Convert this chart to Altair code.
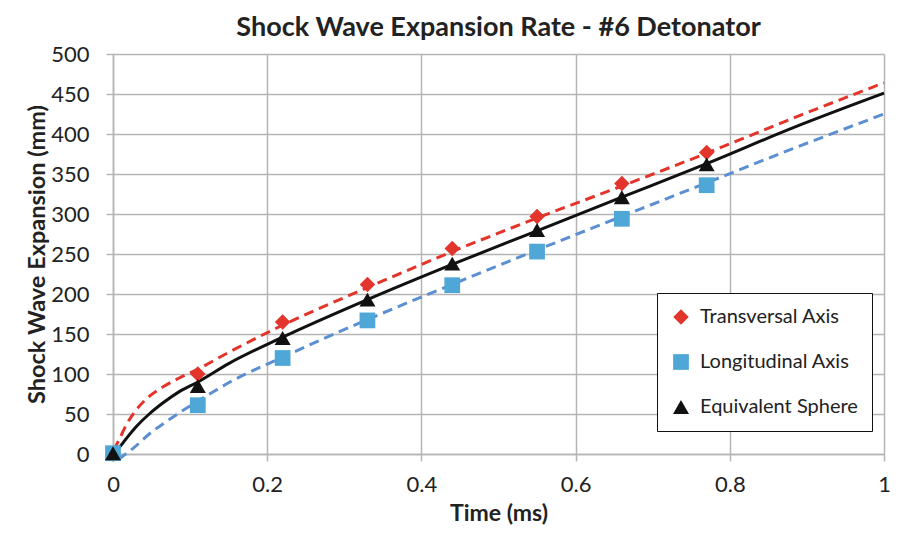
import altair as alt
import pandas as pd

# ---- marker data ----
x_pts = [0, 0.11, 0.22, 0.33, 0.44, 0.55, 0.66, 0.77]
trans = [0, 100, 165, 212, 257, 297, 338, 377]
longi = [1, 61, 120, 167, 211, 253, 294, 336]
equiv = [1, 85, 145, 193, 238, 280, 321, 362]

series_names = ["Transversal Axis", "Longitudinal Axis", "Equivalent Sphere"]

# ---- trend line samples ----
red_x = [0.001, 0.008, 0.017, 0.03, 0.047, 0.065, 0.086, 0.11, 0.15, 0.22, 0.33, 0.44, 0.55, 0.66, 0.77, 0.88, 1.0]
red_y = [5, 18, 36, 55, 72, 84, 95, 106, 127, 161, 208, 253, 295, 335, 376, 419, 464]

blk_x = [0.001, 0.008, 0.017, 0.03, 0.047, 0.065, 0.086, 0.11, 0.15, 0.22, 0.33, 0.44, 0.55, 0.66, 0.77, 0.88, 1.0]
blk_y = [1, 8, 19, 34, 50, 64, 78, 90, 113, 146, 193, 237, 279, 321, 363, 407, 451]

blu_x = [0.007, 0.015, 0.026, 0.047, 0.073, 0.09, 0.11, 0.134, 0.15, 0.22, 0.33, 0.44, 0.55, 0.66, 0.77, 0.88, 1.0]
blu_y = [-7, -1, 7, 25, 43, 54, 66, 80, 89, 121, 168, 212, 255, 297, 339, 381, 425]

rows = []
for k, (name, vals) in enumerate(zip(series_names, [trans, longi, equiv])):
    for x, y in zip(x_pts, vals):
        rows.append({"t": x, "v": y, "series": name, "ord": k})
markers = pd.DataFrame(rows)

red_df = pd.DataFrame({"t": red_x, "v": red_y})
blk_df = pd.DataFrame({"t": blk_x, "v": blk_y})
blu_df = pd.DataFrame({"t": blu_x, "v": blu_y})

FONT = "Lato"

xs = alt.Scale(domain=[0, 1], nice=False)
ys = alt.Scale(domain=[0, 500], nice=False)

x_enc = alt.X("t:Q", scale=xs, title="Time (ms)",
              axis=alt.Axis(values=[0, 0.2, 0.4, 0.6, 0.8, 1.0], format="~g", labelFlush=False))
y_enc = alt.Y("v:Q", scale=ys, title="Shock Wave Expansion (mm)",
              axis=alt.Axis(values=list(range(0, 501, 50)), labelFlush=False))

red_line = alt.Chart(red_df).mark_line(
    color="#E3332A", strokeWidth=3, strokeDash=[10, 6], clip=False, interpolate="monotone"
).encode(x=x_enc, y=y_enc)

blu_line = alt.Chart(blu_df).mark_line(
    color="#5B8FD2", strokeWidth=3, strokeDash=[10, 6], clip=False, interpolate="monotone"
).encode(x=x_enc, y=y_enc)

blk_line = alt.Chart(blk_df).mark_line(
    color="#111111", strokeWidth=3, interpolate="monotone"
).encode(x=x_enc, y=y_enc)

pts = alt.Chart(markers).mark_point(filled=True, opacity=1, strokeWidth=0, clip=False).encode(
    x=x_enc,
    y=y_enc,
    color=alt.Color("series:N", sort=series_names,
                    scale=alt.Scale(domain=series_names, range=["#E2352B", "#4FA7D7", "#111111"]),
                    legend=alt.Legend(title=None)),
    shape=alt.Shape("series:N", sort=series_names,
                    scale=alt.Scale(domain=series_names, range=["diamond", "square", "triangle-up"]),
                    legend=alt.Legend(title=None)),
    size=alt.Size("series:N", scale=alt.Scale(domain=series_names, range=[240, 256, 180]), legend=None),
    order=alt.Order("ord:Q"),
)

chart = alt.layer(red_line, blu_line, blk_line, pts).properties(
    width=771,
    height=400,
    autosize=alt.AutoSizeParams(type="none"),
    padding={"left": 105, "top": 46, "right": 8, "bottom": 72},
    title=alt.TitleParams("Shock Wave Expansion Rate - #6 Detonator", fontSize=27, fontWeight="bold",
                          font=FONT, color="#222222", anchor="middle", offset=1),
).configure_view(stroke=None).configure_axis(
    gridColor="#B5B5B5", gridWidth=1.5, domainColor="#B5B5B5", domainWidth=1.5,
    tickColor="#B5B5B5", tickWidth=1.5, tickSize=7,
    labelFont=FONT, labelFontSize=22, labelColor="#222222",
    titleFont=FONT, titleFontWeight="bold", titleColor="#222222",
).configure_axisX(labelPadding=13, titlePadding=7, titleFontSize=23).configure_axisY(
    labelPadding=17, titlePadding=1, titleFontSize=23.5
).configure_legend(
    orient="none", legendX=544, legendY=239,
    strokeColor="#111111", fillColor="white", padding=14,
    labelFont=FONT, labelFontSize=20, labelColor="#222222", labelLimit=0,
    symbolSize=170, rowPadding=25, labelOffset=9, symbolStrokeWidth=0,
)

chart.save("out.html", embed_options={"renderer": "svg", "actions": False})
